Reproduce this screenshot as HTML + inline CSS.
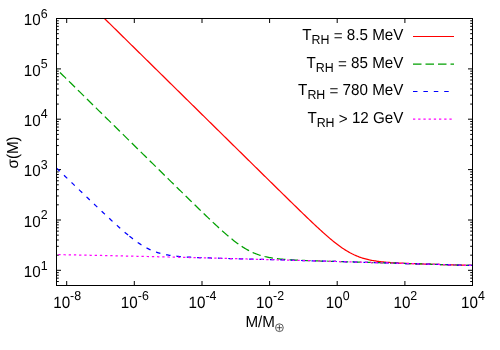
<!DOCTYPE html>
<html><head><meta charset="utf-8"><title>sigma(M)</title>
<style>
html,body{margin:0;padding:0;background:#fff;}
svg{display:block;will-change:transform;text-rendering:geometricPrecision;font-family:"Liberation Sans",sans-serif;font-size:15.2px;fill:#000;}
path{fill:none;stroke-width:1;}
</style></head><body>
<svg width="500" height="350" viewBox="0 0 500 350">
<rect width="500" height="350" fill="#fff"/>
<g stroke="#000"><path d="M56.5,270.3 h4.5 M472.5,270.3 h-4.5 M56.5,220.0 h4.5 M472.5,220.0 h-4.5 M56.5,169.6 h4.5 M472.5,169.6 h-4.5 M56.5,119.2 h4.5 M472.5,119.2 h-4.5 M56.5,68.9 h4.5 M472.5,68.9 h-4.5 M56.5,18.5 h4.5 M472.5,18.5 h-4.5 M56.5,281.51 h2.3 M472.5,281.51 h-2.3 M56.5,278.14 h2.3 M472.5,278.14 h-2.3 M56.5,275.22 h2.3 M472.5,275.22 h-2.3 M56.5,272.64 h2.3 M472.5,272.64 h-2.3 M56.5,255.18 h2.3 M472.5,255.18 h-2.3 M56.5,246.31 h2.3 M472.5,246.31 h-2.3 M56.5,240.01 h2.3 M472.5,240.01 h-2.3 M56.5,235.13 h2.3 M472.5,235.13 h-2.3 M56.5,231.14 h2.3 M472.5,231.14 h-2.3 M56.5,227.77 h2.3 M472.5,227.77 h-2.3 M56.5,224.85 h2.3 M472.5,224.85 h-2.3 M56.5,222.27 h2.3 M472.5,222.27 h-2.3 M56.5,204.81 h2.3 M472.5,204.81 h-2.3 M56.5,195.94 h2.3 M472.5,195.94 h-2.3 M56.5,189.65 h2.3 M472.5,189.65 h-2.3 M56.5,184.76 h2.3 M472.5,184.76 h-2.3 M56.5,180.78 h2.3 M472.5,180.78 h-2.3 M56.5,177.40 h2.3 M472.5,177.40 h-2.3 M56.5,174.48 h2.3 M472.5,174.48 h-2.3 M56.5,171.91 h2.3 M472.5,171.91 h-2.3 M56.5,154.44 h2.3 M472.5,154.44 h-2.3 M56.5,145.57 h2.3 M472.5,145.57 h-2.3 M56.5,139.28 h2.3 M472.5,139.28 h-2.3 M56.5,134.40 h2.3 M472.5,134.40 h-2.3 M56.5,130.41 h2.3 M472.5,130.41 h-2.3 M56.5,127.04 h2.3 M472.5,127.04 h-2.3 M56.5,124.12 h2.3 M472.5,124.12 h-2.3 M56.5,121.54 h2.3 M472.5,121.54 h-2.3 M56.5,104.07 h2.3 M472.5,104.07 h-2.3 M56.5,95.20 h2.3 M472.5,95.20 h-2.3 M56.5,88.91 h2.3 M472.5,88.91 h-2.3 M56.5,84.03 h2.3 M472.5,84.03 h-2.3 M56.5,80.04 h2.3 M472.5,80.04 h-2.3 M56.5,76.67 h2.3 M472.5,76.67 h-2.3 M56.5,73.75 h2.3 M472.5,73.75 h-2.3 M56.5,71.17 h2.3 M472.5,71.17 h-2.3 M56.5,53.71 h2.3 M472.5,53.71 h-2.3 M56.5,44.84 h2.3 M472.5,44.84 h-2.3 M56.5,38.54 h2.3 M472.5,38.54 h-2.3 M56.5,33.66 h2.3 M472.5,33.66 h-2.3 M56.5,29.67 h2.3 M472.5,29.67 h-2.3 M56.5,26.30 h2.3 M472.5,26.30 h-2.3 M56.5,23.38 h2.3 M472.5,23.38 h-2.3 M56.5,20.80 h2.3 M472.5,20.80 h-2.3 M66.7,285.5 v-4.5 M66.7,18.5 v4.5 M134.3,285.5 v-4.5 M134.3,18.5 v4.5 M202.0,285.5 v-4.5 M202.0,18.5 v4.5 M269.6,285.5 v-4.5 M269.6,18.5 v4.5 M337.2,285.5 v-4.5 M337.2,18.5 v4.5 M404.9,285.5 v-4.5 M404.9,18.5 v4.5 M472.5,285.5 v-4.5 M472.5,18.5 v4.5"/></g>
<g stroke-width="1.2">
<path d="M104.50,18.50 L105.50,19.48 L106.50,20.47 L107.50,21.45 L108.50,22.43 L109.50,23.42 L110.50,24.40 L111.50,25.39 L112.50,26.37 L113.50,27.35 L114.50,28.34 L115.50,29.32 L116.50,30.31 L117.50,31.29 L118.50,32.27 L119.50,33.26 L120.50,34.24 L121.50,35.23 L122.50,36.21 L123.50,37.19 L124.50,38.18 L125.50,39.16 L126.50,40.15 L127.50,41.13 L128.50,42.11 L129.50,43.10 L130.50,44.08 L131.50,45.07 L132.50,46.05 L133.50,47.03 L134.50,48.02 L135.50,49.00 L136.50,49.99 L137.50,50.97 L138.50,51.95 L139.50,52.94 L140.50,53.92 L141.50,54.91 L142.50,55.89 L143.50,56.87 L144.50,57.86 L145.50,58.84 L146.50,59.83 L147.50,60.81 L148.50,61.79 L149.50,62.78 L150.50,63.76 L151.50,64.75 L152.50,65.73 L153.50,66.71 L154.50,67.70 L155.50,68.68 L156.50,69.67 L157.50,70.65 L158.50,71.63 L159.50,72.62 L160.50,73.60 L161.50,74.59 L162.50,75.57 L163.50,76.55 L164.50,77.54 L165.50,78.52 L166.50,79.51 L167.50,80.49 L168.50,81.47 L169.50,82.46 L170.50,83.44 L171.50,84.43 L172.50,85.41 L173.50,86.39 L174.50,87.38 L175.50,88.36 L176.50,89.35 L177.50,90.33 L178.50,91.31 L179.50,92.30 L180.50,93.28 L181.50,94.27 L182.50,95.25 L183.50,96.23 L184.50,97.22 L185.50,98.20 L186.50,99.19 L187.50,100.17 L188.50,101.15 L189.50,102.14 L190.50,103.12 L191.50,104.11 L192.50,105.09 L193.50,106.07 L194.50,107.06 L195.50,108.04 L196.50,109.03 L197.50,110.01 L198.50,110.99 L199.50,111.98 L200.50,112.96 L201.50,113.95 L202.50,114.93 L203.50,115.91 L204.50,116.90 L205.50,117.88 L206.50,118.87 L207.50,119.85 L208.50,120.83 L209.50,121.82 L210.50,122.80 L211.50,123.79 L212.50,124.77 L213.50,125.75 L214.50,126.74 L215.50,127.72 L216.50,128.71 L217.50,129.69 L218.50,130.67 L219.50,131.66 L220.50,132.64 L221.50,133.63 L222.50,134.61 L223.50,135.59 L224.50,136.58 L225.50,137.56 L226.50,138.55 L227.50,139.53 L228.50,140.51 L229.50,141.50 L230.50,142.48 L231.50,143.47 L232.50,144.45 L233.50,145.43 L234.50,146.42 L235.50,147.40 L236.50,148.39 L237.50,149.37 L238.50,150.35 L239.50,151.34 L240.50,152.32 L241.50,153.30 L242.50,154.29 L243.50,155.27 L244.50,156.26 L245.50,157.24 L246.50,158.22 L247.50,159.21 L248.50,160.19 L249.50,161.18 L250.50,162.16 L251.50,163.14 L252.50,164.13 L253.50,165.11 L254.50,166.09 L255.50,167.08 L256.50,168.06 L257.50,169.04 L258.50,170.03 L259.50,171.01 L260.50,172.00 L261.50,172.98 L262.50,173.96 L263.50,174.95 L264.50,175.93 L265.50,176.91 L266.50,177.89 L267.50,178.88 L268.50,179.86 L269.50,180.84 L270.50,181.83 L271.50,182.81 L272.50,183.79 L273.50,184.77 L274.50,185.76 L275.50,186.74 L276.50,187.72 L277.50,188.70 L278.50,189.68 L279.50,190.66 L280.50,191.65 L281.50,192.63 L282.50,193.61 L283.50,194.59 L284.50,195.57 L285.50,196.55 L286.50,197.53 L287.50,198.51 L288.50,199.48 L289.50,200.46 L290.50,201.44 L291.50,202.42 L292.50,203.39 L293.50,204.37 L294.50,205.34 L295.50,206.32 L296.50,207.29 L297.50,208.27 L298.50,209.24 L299.50,210.21 L300.50,211.18 L301.50,212.15 L302.50,213.11 L303.50,214.08 L304.50,215.04 L305.50,216.01 L306.50,216.97 L307.50,217.93 L308.50,218.88 L309.50,219.84 L310.50,220.79 L311.50,221.74 L312.50,222.69 L313.50,223.63 L314.50,224.58 L315.50,225.51 L316.50,226.45 L317.50,227.38 L318.50,228.30 L319.50,229.23 L320.50,230.14 L321.50,231.05 L322.50,231.96 L323.50,232.86 L324.50,233.75 L325.50,234.64 L326.50,235.52 L327.50,236.39 L328.50,237.25 L329.50,238.11 L330.50,238.95 L331.50,239.79 L332.50,240.61 L333.50,241.42 L334.50,242.23 L335.50,243.02 L336.50,243.79 L337.50,244.56 L338.50,245.31 L339.50,246.04 L340.50,246.76 L341.50,247.46 L342.50,248.15 L343.50,248.82 L344.50,249.48 L345.50,250.11 L346.50,250.73 L347.50,251.33 L348.50,251.91 L349.50,252.47 L350.50,253.02 L351.50,253.54 L352.50,254.05 L353.50,254.53 L354.50,255.00 L355.50,255.44 L356.50,255.87 L357.50,256.28 L358.50,256.67 L359.50,257.05 L360.50,257.40 L361.50,257.74 L362.50,258.06 L363.50,258.37 L364.50,258.66 L365.50,258.93 L366.50,259.19 L367.50,259.44 L368.50,259.67 L369.50,259.90 L370.50,260.10 L371.50,260.30 L372.50,260.49 L373.50,260.66 L374.50,260.83 L375.50,260.99 L376.50,261.14 L377.50,261.28 L378.50,261.41 L379.50,261.53 L380.50,261.65 L381.50,261.77 L382.50,261.87 L383.50,261.97 L384.50,262.07 L385.50,262.16 L386.50,262.25 L387.50,262.33 L388.50,262.41 L389.50,262.48 L390.50,262.55 L391.50,262.62 L392.50,262.69 L393.50,262.75 L394.50,262.81 L395.50,262.87 L396.50,262.92 L397.50,262.98 L398.50,263.03 L399.50,263.08 L400.50,263.13 L401.50,263.17 L402.50,263.22 L403.50,263.26 L404.50,263.31 L405.50,263.35 L406.50,263.39 L407.50,263.43 L408.50,263.47 L409.50,263.51 L410.50,263.55 L411.50,263.59 L412.50,263.62 L413.50,263.66 L414.50,263.69 L415.50,263.73 L416.50,263.76 L417.50,263.80 L418.50,263.83 L419.50,263.87 L420.50,263.90 L421.50,263.93 L422.50,263.97 L423.50,264.00 L424.50,264.03 L425.50,264.06 L426.50,264.09 L427.50,264.13 L428.50,264.16 L429.50,264.19 L430.50,264.22 L431.50,264.25 L432.50,264.28 L433.50,264.31 L434.50,264.34 L435.50,264.37 L436.50,264.40 L437.50,264.43 L438.50,264.46 L439.50,264.49 L440.50,264.52 L441.50,264.55 L442.50,264.58 L443.50,264.61 L444.50,264.64 L445.50,264.67 L446.50,264.70 L447.50,264.73 L448.50,264.76 L449.50,264.79 L450.50,264.82 L451.50,264.85 L452.50,264.88 L453.50,264.91 L454.50,264.94 L455.50,264.97 L456.50,265.00 L457.50,265.03 L458.50,265.06 L459.50,265.09 L460.50,265.12 L461.50,265.15 L462.50,265.18 L463.50,265.21 L464.50,265.24 L465.50,265.27 L466.50,265.29 L467.50,265.32 L468.50,265.35 L469.50,265.38 L470.50,265.41 L471.50,265.44 L472.50,265.47" stroke="#ff0000" style="stroke-width:1.25"/>
<path d="M56.50,69.06 L57.50,70.04 L58.50,71.03 L59.50,72.01 L60.50,72.99 L61.50,73.97 L62.50,74.96 L63.50,75.94 L64.50,76.92 L65.50,77.91 L66.50,78.89 L67.50,79.87 L68.50,80.86 L69.50,81.84 L70.50,82.82 L71.50,83.80 L72.50,84.79 L73.50,85.77 L74.50,86.75 L75.50,87.74 L76.50,88.72 L77.50,89.70 L78.50,90.69 L79.50,91.67 L80.50,92.65 L81.50,93.63 L82.50,94.62 L83.50,95.60 L84.50,96.58 L85.50,97.57 L86.50,98.55 L87.50,99.53 L88.50,100.52 L89.50,101.50 L90.50,102.48 L91.50,103.46 L92.50,104.45 L93.50,105.43 L94.50,106.41 L95.50,107.40 L96.50,108.38 L97.50,109.36 L98.50,110.35 L99.50,111.33 L100.50,112.31 L101.50,113.29 L102.50,114.28 L103.50,115.26 L104.50,116.24 L105.50,117.23 L106.50,118.21 L107.50,119.19 L108.50,120.18 L109.50,121.16 L110.50,122.14 L111.50,123.12 L112.50,124.11 L113.50,125.09 L114.50,126.07 L115.50,127.06 L116.50,128.04 L117.50,129.02 L118.50,130.01 L119.50,130.99 L120.50,131.97 L121.50,132.95 L122.50,133.94 L123.50,134.92 L124.50,135.90 L125.50,136.89 L126.50,137.87 L127.50,138.85 L128.50,139.84 L129.50,140.82 L130.50,141.80 L131.50,142.78 L132.50,143.77 L133.50,144.75 L134.50,145.73 L135.50,146.72 L136.50,147.70 L137.50,148.68 L138.50,149.66 L139.50,150.65 L140.50,151.63 L141.50,152.61 L142.50,153.60 L143.50,154.58 L144.50,155.56 L145.50,156.54 L146.50,157.53 L147.50,158.51 L148.50,159.49 L149.50,160.48 L150.50,161.46 L151.50,162.44 L152.50,163.42 L153.50,164.41 L154.50,165.39 L155.50,166.37 L156.50,167.35 L157.50,168.34 L158.50,169.32 L159.50,170.30 L160.50,171.28 L161.50,172.27 L162.50,173.25 L163.50,174.23 L164.50,175.21 L165.50,176.20 L166.50,177.18 L167.50,178.16 L168.50,179.14 L169.50,180.12 L170.50,181.11 L171.50,182.09 L172.50,183.07 L173.50,184.05 L174.50,185.03 L175.50,186.01 L176.50,186.99 L177.50,187.97 L178.50,188.95 L179.50,189.94 L180.50,190.92 L181.50,191.90 L182.50,192.87 L183.50,193.85 L184.50,194.83 L185.50,195.81 L186.50,196.79 L187.50,197.77 L188.50,198.75 L189.50,199.72 L190.50,200.70 L191.50,201.67 L192.50,202.65 L193.50,203.62 L194.50,204.60 L195.50,205.57 L196.50,206.54 L197.50,207.51 L198.50,208.48 L199.50,209.45 L200.50,210.42 L201.50,211.39 L202.50,212.35 L203.50,213.32 L204.50,214.28 L205.50,215.24 L206.50,216.20 L207.50,217.16 L208.50,218.11 L209.50,219.06 L210.50,220.01 L211.50,220.96 L212.50,221.90 L213.50,222.84 L214.50,223.78 L215.50,224.71 L216.50,225.64 L217.50,226.56 L218.50,227.48 L219.50,228.40 L220.50,229.30 L221.50,230.21 L222.50,231.10 L223.50,231.99 L224.50,232.88 L225.50,233.75 L226.50,234.62 L227.50,235.48 L228.50,236.32 L229.50,237.16 L230.50,237.99 L231.50,238.81 L232.50,239.61 L233.50,240.41 L234.50,241.19 L235.50,241.95 L236.50,242.71 L237.50,243.44 L238.50,244.17 L239.50,244.87 L240.50,245.56 L241.50,246.23 L242.50,246.89 L243.50,247.52 L244.50,248.14 L245.50,248.74 L246.50,249.32 L247.50,249.88 L248.50,250.42 L249.50,250.94 L250.50,251.44 L251.50,251.93 L252.50,252.39 L253.50,252.83 L254.50,253.25 L255.50,253.65 L256.50,254.04 L257.50,254.41 L258.50,254.75 L259.50,255.09 L260.50,255.40 L261.50,255.70 L262.50,255.98 L263.50,256.25 L264.50,256.50 L265.50,256.74 L266.50,256.96 L267.50,257.17 L268.50,257.37 L269.50,257.56 L270.50,257.74 L271.50,257.91 L272.50,258.07 L273.50,258.21 L274.50,258.36 L275.50,258.49 L276.50,258.61 L277.50,258.73 L278.50,258.84 L279.50,258.95 L280.50,259.05 L281.50,259.14 L282.50,259.23 L283.50,259.32 L284.50,259.40 L285.50,259.47 L286.50,259.55 L287.50,259.62 L288.50,259.68 L289.50,259.75 L290.50,259.81 L291.50,259.86 L292.50,259.92 L293.50,259.97 L294.50,260.03 L295.50,260.08 L296.50,260.12 L297.50,260.17 L298.50,260.22 L299.50,260.26 L300.50,260.30 L301.50,260.34 L302.50,260.38 L303.50,260.42 L304.50,260.46 L305.50,260.50 L306.50,260.54 L307.50,260.57 L308.50,260.61 L309.50,260.65 L310.50,260.68 L311.50,260.71 L312.50,260.75 L313.50,260.78 L314.50,260.81 L315.50,260.85 L316.50,260.88 L317.50,260.91 L318.50,260.94 L319.50,260.98 L320.50,261.01 L321.50,261.04 L322.50,261.07 L323.50,261.10 L324.50,261.13 L325.50,261.16 L326.50,261.19 L327.50,261.22 L328.50,261.25 L329.50,261.28 L330.50,261.31 L331.50,261.34 L332.50,261.37 L333.50,261.40 L334.50,261.43 L335.50,261.46 L336.50,261.49 L337.50,261.52 L338.50,261.55 L339.50,261.58 L340.50,261.61 L341.50,261.63 L342.50,261.66 L343.50,261.69 L344.50,261.72 L345.50,261.75 L346.50,261.78 L347.50,261.81 L348.50,261.84 L349.50,261.87 L350.50,261.90 L351.50,261.93 L352.50,261.96 L353.50,261.99 L354.50,262.01 L355.50,262.04 L356.50,262.07 L357.50,262.10 L358.50,262.13 L359.50,262.16 L360.50,262.19 L361.50,262.22 L362.50,262.25 L363.50,262.28 L364.50,262.31 L365.50,262.33 L366.50,262.36 L367.50,262.39 L368.50,262.42 L369.50,262.45 L370.50,262.48 L371.50,262.51 L372.50,262.54 L373.50,262.57 L374.50,262.60 L375.50,262.63 L376.50,262.66 L377.50,262.68 L378.50,262.71 L379.50,262.74 L380.50,262.77 L381.50,262.80 L382.50,262.83 L383.50,262.86 L384.50,262.89 L385.50,262.92 L386.50,262.95 L387.50,262.98 L388.50,263.01 L389.50,263.04 L390.50,263.07 L391.50,263.09 L392.50,263.12 L393.50,263.15 L394.50,263.18 L395.50,263.21 L396.50,263.24 L397.50,263.27 L398.50,263.30 L399.50,263.33 L400.50,263.36 L401.50,263.39 L402.50,263.42 L403.50,263.45 L404.50,263.48 L405.50,263.51 L406.50,263.53 L407.50,263.56 L408.50,263.59 L409.50,263.62 L410.50,263.65 L411.50,263.68 L412.50,263.71 L413.50,263.74 L414.50,263.77 L415.50,263.80 L416.50,263.83 L417.50,263.86 L418.50,263.89 L419.50,263.92 L420.50,263.95 L421.50,263.98 L422.50,264.00 L423.50,264.03 L424.50,264.06 L425.50,264.09 L426.50,264.12 L427.50,264.15 L428.50,264.18 L429.50,264.21 L430.50,264.24 L431.50,264.27 L432.50,264.30 L433.50,264.33 L434.50,264.36 L435.50,264.39 L436.50,264.42 L437.50,264.45 L438.50,264.47 L439.50,264.50 L440.50,264.53 L441.50,264.56 L442.50,264.59 L443.50,264.62 L444.50,264.65 L445.50,264.68 L446.50,264.71 L447.50,264.74 L448.50,264.77 L449.50,264.80 L450.50,264.83 L451.50,264.86 L452.50,264.89 L453.50,264.92 L454.50,264.94 L455.50,264.97 L456.50,265.00 L457.50,265.03 L458.50,265.06 L459.50,265.09 L460.50,265.12 L461.50,265.15 L462.50,265.18 L463.50,265.21 L464.50,265.24 L465.50,265.27 L466.50,265.30 L467.50,265.33 L468.50,265.35 L469.50,265.38 L470.50,265.41 L471.50,265.44 L472.50,265.47" stroke="#00a000" stroke-dasharray="8.55 4.03" stroke-dashoffset="7.68" style="stroke-width:1.25"/>
<path d="M56.50,168.08 L57.50,169.04 L58.50,170.00 L59.50,170.95 L60.50,171.91 L61.50,172.87 L62.50,173.83 L63.50,174.79 L64.50,175.75 L65.50,176.71 L66.50,177.67 L67.50,178.63 L68.50,179.59 L69.50,180.55 L70.50,181.51 L71.50,182.47 L72.50,183.42 L73.50,184.38 L74.50,185.34 L75.50,186.30 L76.50,187.26 L77.50,188.22 L78.50,189.17 L79.50,190.13 L80.50,191.09 L81.50,192.05 L82.50,193.00 L83.50,193.96 L84.50,194.92 L85.50,195.87 L86.50,196.83 L87.50,197.78 L88.50,198.74 L89.50,199.69 L90.50,200.65 L91.50,201.60 L92.50,202.55 L93.50,203.50 L94.50,204.46 L95.50,205.41 L96.50,206.36 L97.50,207.30 L98.50,208.25 L99.50,209.20 L100.50,210.15 L101.50,211.09 L102.50,212.03 L103.50,212.97 L104.50,213.91 L105.50,214.85 L106.50,215.79 L107.50,216.72 L108.50,217.66 L109.50,218.58 L110.50,219.51 L111.50,220.44 L112.50,221.36 L113.50,222.27 L114.50,223.19 L115.50,224.10 L116.50,225.01 L117.50,225.91 L118.50,226.80 L119.50,227.70 L120.50,228.58 L121.50,229.46 L122.50,230.33 L123.50,231.20 L124.50,232.06 L125.50,232.91 L126.50,233.75 L127.50,234.58 L128.50,235.41 L129.40,236.14 M129.40,236.14 L129.50,236.22 L130.50,237.02 L131.50,237.81 L132.50,238.59 L133.50,239.36 L134.50,240.11 L135.50,240.85 L136.50,241.57 L137.50,242.28 L138.50,242.97 L139.50,243.64 L140.50,244.30 L141.50,244.94 L142.50,245.56 L143.50,246.16 L144.50,246.75 L145.50,247.31 L146.50,247.85 L147.50,248.38 L148.50,248.88 L149.50,249.37 L150.50,249.83 L151.50,250.28 L152.50,250.70 L153.50,251.11 L154.50,251.49 L155.50,251.86 L156.50,252.21 L157.50,252.54 L158.50,252.85 L159.50,253.15 L160.50,253.43 L161.50,253.69 L162.50,253.94 L163.50,254.18 L164.50,254.40 L165.50,254.61 L166.50,254.81 L167.50,254.99 L168.50,255.17 L169.50,255.33 L170.50,255.48 L171.50,255.63 L172.50,255.76 L173.50,255.89 L174.50,256.01 L175.50,256.12 L176.50,256.23 L177.50,256.33 L178.50,256.43 L179.50,256.51 L180.50,256.60 L181.50,256.68 L182.50,256.75 L183.50,256.83 L184.50,256.89 L185.50,256.96 L186.50,257.02 L187.50,257.08 L188.50,257.13 L189.50,257.19 L190.50,257.24 L191.50,257.29 L192.50,257.34 L193.50,257.38 L194.50,257.42 L195.50,257.47 L196.50,257.51 L197.50,257.55 L198.50,257.59 L199.50,257.62 L200.50,257.66 L201.50,257.70 L202.50,257.73 L203.50,257.77 L204.50,257.80 L205.50,257.83 L206.50,257.87 L207.50,257.90 L208.50,257.93 L209.50,257.96 L210.50,257.99 L211.50,258.02 L212.50,258.05 L213.50,258.08 L214.50,258.11 L215.50,258.14 L216.50,258.17 L217.50,258.19 L218.50,258.22 L219.50,258.25 L220.50,258.28 L221.50,258.31 L222.50,258.33 L223.50,258.36 L224.50,258.39 L225.50,258.42 L226.50,258.45 L227.50,258.47 L228.50,258.50 L229.50,258.53 L230.50,258.55 L231.50,258.58 L232.50,258.61 L233.50,258.64 L234.50,258.66 L235.50,258.69 L236.50,258.72 L237.50,258.74 L238.50,258.77 L239.50,258.80 L240.50,258.82 L241.50,258.85 L242.50,258.88 L243.50,258.91 L244.50,258.93 L245.50,258.96 L246.50,258.99 L247.50,259.01 L248.50,259.04 L249.50,259.07 L250.50,259.09 L251.50,259.12 L252.50,259.15 L253.50,259.18 L254.50,259.20 L255.50,259.23 L256.50,259.26 L257.50,259.28 L258.50,259.31 L259.50,259.34 L260.50,259.37 L261.50,259.39 L262.50,259.42 L263.50,259.45 L264.50,259.47 L265.50,259.50 L266.50,259.53 L267.50,259.56 L268.50,259.58 L269.50,259.61 L270.50,259.64 L271.50,259.67 L272.50,259.69 L273.50,259.72 L274.50,259.75 L275.50,259.78 L276.50,259.80 L277.50,259.83 L278.50,259.86 L279.50,259.89 L280.50,259.91 L281.50,259.94 L282.50,259.97 L283.50,260.00 L284.50,260.03 L285.50,260.05 L286.50,260.08 L287.50,260.11 L288.50,260.14 L289.50,260.16 L290.50,260.19 L291.50,260.22 L292.50,260.25 L293.50,260.28 L294.50,260.30 L295.50,260.33 L296.50,260.36 L297.50,260.39 L298.50,260.42 L299.50,260.44 L300.50,260.47 L301.50,260.50 L302.50,260.53 L303.50,260.56 L304.50,260.59 L305.50,260.61 L306.50,260.64 L307.50,260.67 L308.50,260.70 L309.50,260.73 L310.50,260.76 L311.50,260.78 L312.50,260.81 L313.50,260.84 L314.50,260.87 L315.50,260.90 L316.50,260.93 L317.50,260.95 L318.50,260.98 L319.50,261.01 L320.50,261.04 L321.50,261.07 L322.50,261.10 L323.50,261.12 L324.50,261.15 L325.50,261.18 L326.50,261.21 L327.50,261.24 L328.50,261.27 L329.50,261.30 L330.50,261.32 L331.50,261.35 L332.50,261.38 L333.50,261.41 L334.50,261.44 L335.50,261.47 L336.50,261.50 L337.50,261.53 L338.50,261.55 L339.50,261.58 L340.50,261.61 L341.50,261.64 L342.50,261.67 L343.50,261.70 L344.50,261.73 L345.50,261.76 L346.50,261.78 L347.50,261.81 L348.50,261.84 L349.50,261.87 L350.50,261.90 L351.50,261.93 L352.50,261.96 L353.50,261.99 L354.50,262.02 L355.50,262.05 L356.50,262.07 L357.50,262.10 L358.50,262.13 L359.50,262.16 L360.50,262.19 L361.50,262.22 L362.50,262.25 L363.50,262.28 L364.50,262.31 L365.50,262.34 L366.50,262.36 L367.50,262.39 L368.50,262.42 L369.50,262.45 L370.50,262.48 L371.50,262.51 L372.50,262.54 L373.50,262.57 L374.50,262.60 L375.50,262.63 L376.50,262.66 L377.50,262.69 L378.50,262.71 L379.50,262.74 L380.50,262.77 L381.50,262.80 L382.50,262.83 L383.50,262.86 L384.50,262.89 L385.50,262.92 L386.50,262.95 L387.50,262.98 L388.50,263.01 L389.50,263.04 L390.50,263.07 L391.50,263.09 L392.50,263.12 L393.50,263.15 L394.50,263.18 L395.50,263.21 L396.50,263.24 L397.50,263.27 L398.50,263.30 L399.50,263.33 L400.50,263.36 L401.50,263.39 L402.50,263.42 L403.50,263.45 L404.50,263.48 L405.50,263.51 L406.50,263.53 L407.50,263.56 L408.50,263.59 L409.50,263.62 L410.50,263.65 L411.50,263.68 L412.50,263.71 L413.50,263.74 L414.50,263.77 L415.50,263.80 L416.50,263.83 L417.50,263.86 L418.50,263.89 L419.50,263.92 L420.50,263.95 L421.50,263.98 L422.50,264.00 L423.50,264.03 L424.50,264.06 L425.50,264.09 L426.50,264.12 L427.50,264.15 L428.50,264.18 L429.50,264.21 L430.50,264.24 L431.50,264.27 L432.50,264.30 L433.50,264.33 L434.50,264.36 L435.50,264.39 L436.50,264.42 L437.50,264.45 L438.50,264.47 L439.50,264.50 L440.50,264.53 L441.50,264.56 L442.50,264.59 L443.50,264.62 L444.50,264.65 L445.50,264.68 L446.50,264.71 L447.50,264.74 L448.50,264.77 L449.50,264.80 L450.50,264.83 L451.50,264.86 L452.50,264.89 L453.50,264.92 L454.50,264.94 L455.50,264.97 L456.50,265.00 L457.50,265.03 L458.50,265.06 L459.50,265.09 L460.50,265.12 L461.50,265.15 L462.50,265.18 L463.50,265.21 L464.50,265.24 L465.50,265.27 L466.50,265.30 L467.50,265.33 L468.50,265.35 L469.50,265.38 L470.50,265.41 L471.50,265.44 L472.50,265.47" stroke="#0000ff" stroke-dasharray="4.5 5.9" style="stroke-width:1.25"/>
<path d="M56.50,254.60 L57.50,254.62 L58.50,254.64 L59.50,254.66 L60.50,254.68 L61.50,254.70 L62.50,254.72 L63.50,254.74 L64.50,254.75 L65.50,254.77 L66.50,254.79 L67.50,254.81 L68.50,254.83 L69.50,254.85 L70.50,254.87 L71.50,254.89 L72.50,254.91 L73.50,254.93 L74.50,254.95 L75.50,254.96 L76.50,254.98 L77.50,255.00 L78.50,255.02 L79.50,255.04 L80.50,255.06 L81.50,255.08 L82.50,255.10 L83.50,255.12 L84.50,255.14 L85.50,255.16 L86.50,255.18 L87.50,255.20 L88.50,255.22 L89.50,255.24 L90.50,255.26 L91.50,255.28 L92.50,255.30 L93.50,255.32 L94.50,255.35 L95.50,255.37 L96.50,255.39 L97.50,255.41 L98.50,255.43 L99.50,255.45 L100.50,255.47 L101.50,255.49 L102.50,255.51 L103.50,255.53 L104.50,255.55 L105.50,255.57 L106.50,255.60 L107.50,255.62 L108.50,255.64 L109.50,255.66 L110.50,255.68 L111.50,255.70 L112.50,255.72 L113.50,255.75 L114.50,255.77 L115.50,255.79 L116.50,255.81 L117.50,255.83 L118.50,255.85 L119.50,255.88 L120.50,255.90 L121.50,255.92 L122.50,255.94 L123.50,255.96 L124.50,255.98 L125.50,256.01 L126.50,256.03 L127.50,256.05 L128.50,256.07 L129.50,256.10 L130.50,256.12 L131.50,256.14 L132.50,256.16 L133.50,256.19 L134.50,256.21 L135.50,256.23 L136.50,256.25 L137.50,256.28 L138.50,256.30 L139.50,256.32 L140.50,256.34 L141.50,256.37 L142.50,256.39 L143.50,256.41 L144.50,256.44 L145.50,256.46 L146.50,256.48 L147.50,256.50 L148.50,256.53 L149.50,256.55 L150.50,256.57 L151.50,256.60 L152.50,256.62 L153.50,256.64 L154.50,256.67 L155.50,256.69 L156.50,256.71 L157.50,256.74 L158.50,256.76 L159.50,256.79 L160.50,256.81 L161.50,256.83 L162.50,256.86 L163.50,256.88 L164.50,256.90 L165.50,256.93 L166.50,256.95 L167.50,256.98 L168.50,257.00 L169.50,257.02 L170.50,257.05 L171.50,257.07 L172.50,257.10 L173.50,257.12 L174.50,257.15 L175.50,257.17 L176.50,257.19 L177.50,257.22 L178.50,257.24 L179.50,257.27 L180.50,257.29 L181.50,257.32 L182.50,257.34 L183.50,257.37 L184.50,257.39 L185.50,257.41 L186.50,257.44 L187.50,257.46 L188.50,257.49 L189.50,257.51 L190.50,257.54 L191.50,257.56 L192.50,257.59 L193.50,257.61 L194.50,257.64 L195.50,257.66 L196.50,257.69 L197.50,257.71 L198.50,257.74 L199.50,257.76 L200.50,257.79 L201.50,257.82 L202.50,257.84 L203.50,257.87 L204.50,257.89 L205.50,257.92 L206.50,257.94 L207.50,257.97 L208.50,257.99 L209.50,258.02 L210.50,258.04 L211.50,258.07 L212.50,258.10 L213.50,258.12 L214.50,258.15 L215.50,258.17 L216.50,258.20 L217.50,258.22 L218.50,258.25 L219.50,258.28 L220.50,258.30 L221.50,258.33 L222.50,258.35 L223.50,258.38 L224.50,258.41 L225.50,258.43 L226.50,258.46 L227.50,258.49 L228.50,258.51 L229.50,258.54 L230.50,258.56 L231.50,258.59 L232.50,258.62 L233.50,258.64 L234.50,258.67 L235.50,258.70 L236.50,258.72 L237.50,258.75 L238.50,258.78 L239.50,258.80 L240.50,258.83 L241.50,258.86 L242.50,258.88 L243.50,258.91 L244.50,258.94 L245.50,258.96 L246.50,258.99 L247.50,259.02 L248.50,259.04 L249.50,259.07 L250.50,259.10 L251.50,259.12 L252.50,259.15 L253.50,259.18 L254.50,259.20 L255.50,259.23 L256.50,259.26 L257.50,259.29 L258.50,259.31 L259.50,259.34 L260.50,259.37 L261.50,259.39 L262.50,259.42 L263.50,259.45 L264.50,259.48 L265.50,259.50 L266.50,259.53 L267.50,259.56 L268.50,259.58 L269.50,259.61 L270.50,259.64 L271.50,259.67 L272.50,259.69 L273.50,259.72 L274.50,259.75 L275.50,259.78 L276.50,259.80 L277.50,259.83 L278.50,259.86 L279.50,259.89 L280.50,259.92 L281.50,259.94 L282.50,259.97 L283.50,260.00 L284.50,260.03 L285.50,260.05 L286.50,260.08 L287.50,260.11 L288.50,260.14 L289.50,260.17 L290.50,260.19 L291.50,260.22 L292.50,260.25 L293.50,260.28 L294.50,260.30 L295.50,260.33 L296.50,260.36 L297.50,260.39 L298.50,260.42 L299.50,260.44 L300.50,260.47 L301.50,260.50 L302.50,260.53 L303.50,260.56 L304.50,260.59 L305.50,260.61 L306.50,260.64 L307.50,260.67 L308.50,260.70 L309.50,260.73 L310.50,260.76 L311.50,260.78 L312.50,260.81 L313.50,260.84 L314.50,260.87 L315.50,260.90 L316.50,260.93 L317.50,260.95 L318.50,260.98 L319.50,261.01 L320.50,261.04 L321.50,261.07 L322.50,261.10 L323.50,261.12 L324.50,261.15 L325.50,261.18 L326.50,261.21 L327.50,261.24 L328.50,261.27 L329.50,261.30 L330.50,261.32 L331.50,261.35 L332.50,261.38 L333.50,261.41 L334.50,261.44 L335.50,261.47 L336.50,261.50 L337.50,261.53 L338.50,261.55 L339.50,261.58 L340.50,261.61 L341.50,261.64 L342.50,261.67 L343.50,261.70 L344.50,261.73 L345.50,261.76 L346.50,261.78 L347.50,261.81 L348.50,261.84 L349.50,261.87 L350.50,261.90 L351.50,261.93 L352.50,261.96 L353.50,261.99 L354.50,262.02 L355.50,262.05 L356.50,262.07 L357.50,262.10 L358.50,262.13 L359.50,262.16 L360.50,262.19 L361.50,262.22 L362.50,262.25 L363.50,262.28 L364.50,262.31 L365.50,262.34 L366.50,262.36 L367.50,262.39 L368.50,262.42 L369.50,262.45 L370.50,262.48 L371.50,262.51 L372.50,262.54 L373.50,262.57 L374.50,262.60 L375.50,262.63 L376.50,262.66 L377.50,262.69 L378.50,262.71 L379.50,262.74 L380.50,262.77 L381.50,262.80 L382.50,262.83 L383.50,262.86 L384.50,262.89 L385.50,262.92 L386.50,262.95 L387.50,262.98 L388.50,263.01 L389.50,263.04 L390.50,263.07 L391.50,263.09 L392.50,263.12 L393.50,263.15 L394.50,263.18 L395.50,263.21 L396.50,263.24 L397.50,263.27 L398.50,263.30 L399.50,263.33 L400.50,263.36 L401.50,263.39 L402.50,263.42 L403.50,263.45 L404.50,263.48 L405.50,263.51 L406.50,263.53 L407.50,263.56 L408.50,263.59 L409.50,263.62 L410.50,263.65 L411.50,263.68 L412.50,263.71 L413.50,263.74 L414.50,263.77 L415.50,263.80 L416.50,263.83 L417.50,263.86 L418.50,263.89 L419.50,263.92 L420.50,263.95 L421.50,263.98 L422.50,264.00 L423.50,264.03 L424.50,264.06 L425.50,264.09 L426.50,264.12 L427.50,264.15 L428.50,264.18 L429.50,264.21 L430.50,264.24 L431.50,264.27 L432.50,264.30 L433.50,264.33 L434.50,264.36 L435.50,264.39 L436.50,264.42 L437.50,264.45 L438.50,264.47 L439.50,264.50 L440.50,264.53 L441.50,264.56 L442.50,264.59 L443.50,264.62 L444.50,264.65 L445.50,264.68 L446.50,264.71 L447.50,264.74 L448.50,264.77 L449.50,264.80 L450.50,264.83 L451.50,264.86 L452.50,264.89 L453.50,264.92 L454.50,264.94 L455.50,264.97 L456.50,265.00 L457.50,265.03 L458.50,265.06 L459.50,265.09 L460.50,265.12 L461.50,265.15 L462.50,265.18 L463.50,265.21 L464.50,265.24 L465.50,265.27 L466.50,265.30 L467.50,265.33 L468.50,265.35 L469.50,265.38 L470.50,265.41 L471.50,265.44 L472.50,265.47" stroke="#ff00ff" stroke-dasharray="2.3 2.9" stroke-dashoffset="3.4" style="stroke-width:1.25"/>
</g>
<rect x="56.5" y="18.5" width="416.0" height="267.0" fill="none" stroke="#000" stroke-width="1" shape-rendering="crispEdges"/>
<text transform="translate(47.6 277.1) scale(1 1.045)" text-anchor="end">10<tspan dy="-7.2" font-size="12.4">1</tspan></text>
<text transform="translate(47.6 226.8) scale(1 1.045)" text-anchor="end">10<tspan dy="-7.2" font-size="12.4">2</tspan></text>
<text transform="translate(47.6 176.4) scale(1 1.045)" text-anchor="end">10<tspan dy="-7.2" font-size="12.4">3</tspan></text>
<text transform="translate(47.6 126.0) scale(1 1.045)" text-anchor="end">10<tspan dy="-7.2" font-size="12.4">4</tspan></text>
<text transform="translate(47.6 75.7) scale(1 1.045)" text-anchor="end">10<tspan dy="-7.2" font-size="12.4">5</tspan></text>
<text transform="translate(47.6 25.3) scale(1 1.045)" text-anchor="end">10<tspan dy="-7.2" font-size="12.4">6</tspan></text>
<text transform="translate(53.21 307.5) scale(1 1.085)">10</text>
<text transform="translate(70.12 300.0) scale(1 1.045)" font-size="12.4">-8</text>
<text transform="translate(120.85 307.5) scale(1 1.085)">10</text>
<text transform="translate(137.76 300.0) scale(1 1.045)" font-size="12.4">-6</text>
<text transform="translate(188.49 307.5) scale(1 1.085)">10</text>
<text transform="translate(205.39 300.0) scale(1 1.045)" font-size="12.4">-4</text>
<text transform="translate(256.12 307.5) scale(1 1.085)">10</text>
<text transform="translate(273.03 300.0) scale(1 1.045)" font-size="12.4">-2</text>
<text transform="translate(325.82 307.5) scale(1 1.085)">10</text>
<text transform="translate(342.73 300.0) scale(1 1.045)" font-size="12.4">0</text>
<text transform="translate(393.46 307.5) scale(1 1.085)">10</text>
<text transform="translate(410.37 300.0) scale(1 1.045)" font-size="12.4">2</text>
<text transform="translate(461.10 307.5) scale(1 1.085)">10</text>
<text transform="translate(478.01 300.0) scale(1 1.045)" font-size="12.4">4</text>
<text transform="translate(403.4 40.0) scale(1 1.045)" text-anchor="end">T<tspan dy="4.0" font-size="12.4">RH</tspan><tspan dy="-3.0"> =</tspan><tspan dy="-1.0"> 8.5 MeV</tspan></text>
<path d="M413,36.5 H454" stroke="#ff0000" style="stroke-width:1.1"/>
<text transform="translate(403.4 67.5) scale(1 1.045)" text-anchor="end">T<tspan dy="4.0" font-size="12.4">RH</tspan><tspan dy="-3.0"> =</tspan><tspan dy="-1.0"> 85 MeV</tspan></text>
<path d="M413,64.0 H454" stroke="#00a000" stroke-dasharray="8.5 4" style="stroke-width:1.25"/>
<text transform="translate(403.4 95.0) scale(1 1.045)" text-anchor="end">T<tspan dy="4.0" font-size="12.4">RH</tspan><tspan dy="-3.0"> =</tspan><tspan dy="-1.0"> 780 MeV</tspan></text>
<path d="M413,91.5 H454" stroke="#0000ff" stroke-dasharray="4.5 5.9" style="stroke-width:1.1"/>
<text transform="translate(403.4 122.5) scale(1 1.045)" text-anchor="end">T<tspan dy="4.0" font-size="12.4">RH</tspan><tspan dy="-3.0"> &gt;</tspan><tspan dy="-1.0"> 12 GeV</tspan></text>
<path d="M413,119.0 H454" stroke="#ff00ff" stroke-dasharray="2.3 2.9" style="stroke-width:1.25"/>
<text transform="translate(18,152.4) rotate(-90) scale(1 1.045)" text-anchor="middle">σ(M)</text>
<text transform="translate(245.4 327.2) scale(1 1.045)">M/M</text>
<g stroke="#1a1a1a" stroke-width="0.7" fill="none"><circle cx="279.4" cy="327.7" r="3.9"/><path d="M276.5,327.7 h5.8 M279.4,324.8 v5.8" style="stroke-width:0.7"/></g>
</svg>
</body></html>
